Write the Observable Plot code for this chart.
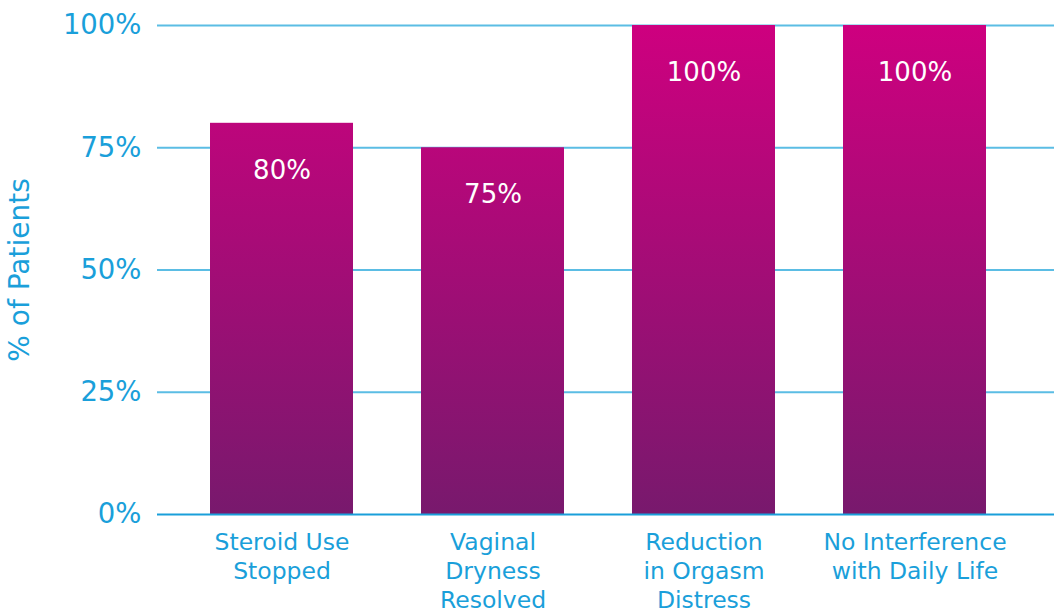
<!DOCTYPE html>
<html>
<head>
<meta charset="utf-8">
<script src="https://cdn.jsdelivr.net/npm/d3@7"></script>
<script src="https://cdn.jsdelivr.net/npm/@observablehq/plot@0.6"></script>
<style>
  html, body { margin: 0; padding: 0; background: #fff; }
  svg { display: block; }
</style>
</head>
<body>
<div id="chart"></div>
<script>
const categories = ["Steroid Use\nStopped", "Vaginal\nDryness\nResolved", "Reduction\nin Orgasm\nDistress", "No Interference\nwith Daily Life"];
const values = [80, 75, 100, 100];
const yTicks = [0, 25, 50, 75, 100];

const data = categories.map((c, i) => ({category: c, value: values[i]}));

const blue = "#1a9fda";
const font = "'DejaVu Sans', sans-serif";

const gradientDefs = () => {
  const defs = d3.create("svg:defs");
  const g = defs.append("linearGradient")
    .attr("id", "barGrad")
    .attr("gradientUnits", "userSpaceOnUse")
    .attr("x1", 0).attr("x2", 0).attr("y1", 25).attr("y2", 514);
  g.append("stop").attr("offset", "0%").attr("stop-color", "#ce007f");
  g.append("stop").attr("offset", "100%").attr("stop-color", "#78196d");
  return defs.node();
};

const chart = Plot.plot({
  width: 1054,
  height: 611,
  marginTop: 25,
  marginBottom: 97,
  marginLeft: 157,
  marginRight: 0,
  style: {fontFamily: font, color: blue, background: "#fff", overflow: "visible"},
  x: {domain: categories, insetLeft: 19, insetRight: 34, paddingInner: 0.32, paddingOuter: 0.16},
  y: {domain: [0, 100]},
  marks: [
    gradientDefs,
    Plot.ruleY(yTicks.filter(d => d > 0), {stroke: "#5bbde4", strokeWidth: 1.8}),
    Plot.barY(data, {x: "category", y: "value", fill: "url(#barGrad)"}),
    Plot.ruleY([0], {stroke: "#1a9fda", strokeWidth: 1.8}),
    Plot.text(data, {x: "category", y: "value", text: d => d.value + "%", dy: 47, fill: "#fff", fontSize: 26}),
    Plot.axisY({ticks: yTicks, tickFormat: d => d + "%", tickSize: 0, tickPadding: 16, fontSize: 27.5, fill: blue,
      label: "% of Patients", labelAnchor: "center", labelArrow: "none", labelOffset: 148}),
    Plot.axisX({tickSize: 0, tickPadding: 15, fontSize: 23.5, fill: blue, lineHeight: 1.24, label: null})
  ]
});

chart.querySelectorAll("[aria-label='y-axis label'] text").forEach(t => {
  t.setAttribute("font-size", 28);
});
document.getElementById("chart").append(chart);
</script>
</body>
</html>
